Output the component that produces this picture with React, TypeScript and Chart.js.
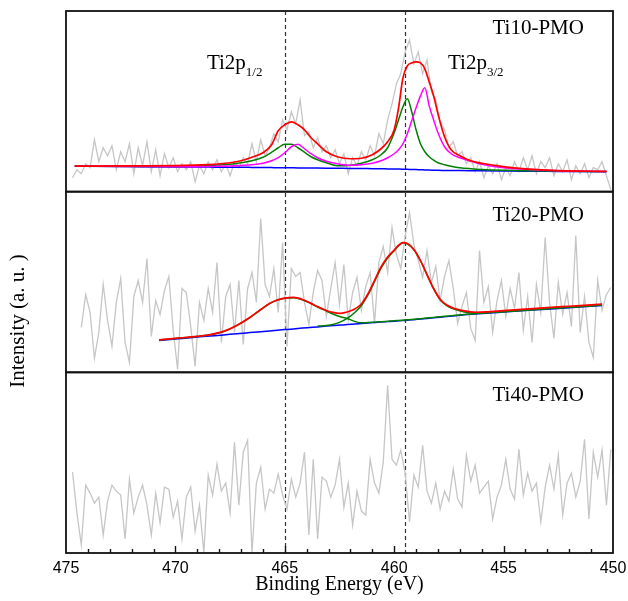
import React, { useEffect, useRef } from 'react';
import { Chart, registerables } from 'chart.js';

Chart.register(...registerables);

// Measured spectra: energy grid 474.7 -> 450.1 eV (0.2 eV step)
const spectrumStart = 474.7;
const spectrumStep = 0.2;
const spectrumCount = 124;

// Intensities in panel units (0 = panel bottom, 181 = panel top)
const ti10Spectrum = [
  14, 22, 18, 28, 24, 52, 30, 44, 36, 46,
  22, 40, 30, 48, 18, 44, 26, 50, 20, 42,
  16, 38, 24, 34, 20, 28, 22, 30, 10, 26,
  18, 30, 22, 32, 20, 28, 16, 30, 24, 34,
  28, 48, 30, 52, 36, 44, 58, 50, 72, 62,
  80, 68, 92, 56, 60, 44, 54, 40, 46, 34,
  42, 28, 38, 18, 34, 26, 40, 32, 46, 36,
  58, 48, 72, 88, 108, 118, 140, 152, 128, 140,
  118, 132, 100, 92, 70, 62, 44, 50, 36, 40,
  28, 34, 20, 30, 14, 26, 18, 28, 12, 24,
  16, 30, 20, 34, 22, 36, 18, 30, 24, 34,
  16, 28, 20, 32, 12, 26, 18, 28, 14, 24,
  22, 30, 16, 2,
];

const ti20Spectrum = [
  null, null, 45, 78, 60, 14, 40, 88, 52, 26,
  70, 94, 30, 10, 76, 92, 70, 114, 36, 72,
  58, 82, 96, 42, 3, 84, 80, 46, 6, 70,
  52, 84, 60, 110, 30, 76, 88, 40, 92, 28,
  84, 100, 70, 154, 88, 76, 104, 60, 130, 26,
  104, 96, 100, 70, 48, 80, 102, 92, 56, 84,
  110, 68, 108, 52, 80, 95, 62, 86, 100, 49,
  110, 126, 100, 145, 118, 104, 136, 160, 128, 112,
  95, 122, 90, 106, 72, 96, 112, 84, 49, 66,
  80, 44, 32, 122, 70, 86, 40, 72, 92, 56,
  84, 64, 100, 42, 76, 30, 88, 60, 135, 70,
  34, 90, 58, 80, 46, 137, 40, 76, 30, 15,
  92, 62, 78, 85,
];

const ti40Spectrum = [
  81, 40, 8, 68, 60, 50, 56, 18, 52, 68,
  62, 58, 14, 74, 40, 56, 68, 48, 18, 60,
  30, 66, 64, 36, 52, 14, 56, 66, 22, 48,
  0, 78, 58, 89, 62, 70, 40, 111, 48, 101,
  113, 0, 70, 86, 44, 64, 60, 79, 58, 44,
  74, 56, 70, 101, 18, 94, 14, 76, 72, 56,
  68, 94, 46, 70, 28, 62, 42, 38, 94, 70,
  60, 91, 168, 94, 88, 103, 80, 31, 78, 66,
  108, 62, 50, 70, 44, 62, 52, 84, 54, 46,
  98, 72, 88, 60, 66, 72, 34, 56, 68, 94,
  64, 54, 104, 58, 80, 62, 70, 31, 66, 88,
  64, 98, 38, 70, 80, 56, 72, 114, 34, 101,
  76, 103, 48, 104,
];

// Ti10-PMO peak fit
const ti10FitEnergy = [
  474.6, 472, 470, 468.5, 467.5, 467, 466.5, 466, 465.6, 465.3,
  465, 464.7, 464.4, 464.1, 463.8, 463.5, 463.1, 462.6, 462, 461.5,
  461, 460.6, 460.3, 460, 459.8, 459.6, 459.4, 459.2, 459, 458.8,
  458.6, 458.4, 458.2, 458, 457.7, 457.4, 457, 456.5, 456, 455,
  454, 452.5, 450.3,
];
const ti10Background = [
  25.5, 25.1, 24.8, 24.6, 24.4, 24.4, 24.3, 24.2, 24.1, 24.0,
  24.0, 23.9, 23.8, 23.8, 23.7, 23.6, 23.5, 23.4, 23.3, 23.2,
  23.0, 22.9, 22.8, 22.7, 22.6, 22.5, 22.4, 22.2, 22.1, 21.9,
  21.8, 21.6, 21.5, 21.4, 21.3, 21.2, 21.1, 21.0, 20.9, 20.7,
  20.5, 20.3, 20.0,
];
const ti10ComponentA = [
  25.6, 25.3, 25.2, 26.3, 27.5, 29, 31, 34.5, 39.5, 44,
  47.5, 47.5, 44, 39.5, 35, 32, 29, 26, 26.5, 28.5,
  32, 37, 44, 59, 72, 85, 93, 80, 62, 48,
  40, 35, 31.5, 29, 27, 25.5, 24, 23, 22.3, 21.5,
  21, 20.6, 20.2,
];
const ti10ComponentB = [
  25.5, 25.2, 25, 25.2, 25.8, 26.3, 27, 28.5, 31, 34,
  39, 45, 47.5, 43, 38, 34, 30.5, 28, 26.5, 27,
  28.5, 31, 34, 38, 42, 48, 58, 71, 84, 96,
  104, 86, 72, 59, 45, 38, 34, 30.5, 27.5, 24,
  22.5, 21, 20.3,
];
const ti10Envelope = [
  25.5, 25.8, 26, 27, 29, 31, 34.5, 39, 47, 61,
  67, 70, 67, 62, 54, 48, 40, 35, 33, 33.5,
  37, 43, 50, 62, 84, 114, 126, 129, 130, 129,
  123, 110, 96, 78, 55, 42, 36, 31, 28.5, 25,
  22.8, 21, 20.3,
];

// Ti20-PMO peak fit
const ti20FitEnergy = [
  470.75, 470, 469, 468.4, 467.8, 467.2, 466.6, 466.1, 465.7, 465.35,
  465, 464.6, 464.2, 463.85, 463.5, 463.1, 462.8, 462.5, 462.15, 461.8,
  461.5, 461.2, 460.9, 460.6, 460.3, 460, 459.8, 459.6, 459.4, 459.1,
  458.8, 458.5, 458.2, 457.9, 457.6, 457.2, 456.8, 456.3, 455.8, 455,
  454, 453, 452, 451, 450.5,
];
const ti20Background = [
  32, 33.4, 35.3, 36.4, 37.5, 38.7, 39.8, 40.7, 41.5, 42.2,
  42.8, 43.5, 44.3, 44.9, 45.5, 46.3, 46.8, 47.3, 47.8, 48.4,
  48.9, 49.4, 49.9, 50.3, 50.8, 51.3, 51.6, 51.9, 52.2, 52.8,
  53.4, 54.0, 54.6, 55.3, 55.9, 56.7, 57.6, 58.4, 59.2, 60.4,
  61.9, 63.3, 64.8, 66.2, 67,
];
const ti20ComponentA = [
  32.5, 34, 36, 37.6, 40.8, 46.8, 54.8, 62.8, 68.8, 72.2,
  74.2, 74.7, 72.8, 69.3, 65.5, 61.5, 58.5, 56, 54, 51,
  49.6, 49.9, 50.3, 50.7, 51.2, 51.7, 52.0, 52.3, 52.6, 53.2,
  53.8, 54.4, 55.0, 55.7, 56.3, 57.1, 58.0, 58.8, 59.6, 60.8,
  62.3, 63.7, 65.2, 66.6, 67.4,
];
const ti20ComponentB = [
  null, null, null, null, null, null, null, null, null, null,
  null, null, null, null, 46.3, 47, 48, 50, 54, 60,
  67, 77.5, 91, 104.5, 114.5, 121.8, 126.8, 129.8, 128.8, 122.8,
  111.8, 97.8, 83.8, 72.8, 66.8, 62.8, 60.5, 59.2, 59.8, 61,
  62.5, 63.9, 65.4, 66.8, 67.6,
];
const ti20Envelope = [
  32.5, 34, 36, 37.8, 41, 47, 55, 63, 69, 72.4,
  74.4, 75, 73, 69.6, 65.8, 62, 60, 59, 60.5, 63.5,
  68.5, 78.5, 92, 105.5, 115.5, 122.5, 127.3, 130, 129, 123,
  112, 98, 84, 73.3, 67.5, 63.6, 61.5, 60.2, 60.5, 61.8,
  63.3, 64.8, 66.2, 67.6, 68.4,
];

const xTickValues = [475, 470, 465, 460, 455, 450];
const guideEnergies = [465, 459.5];
const panelNames = ['Ti10-PMO', 'Ti20-PMO', 'Ti40-PMO'];
const panelAxes = ['y10', 'y20', 'y40'];
const peakLabels = [
  { main: 'Ti2p', sub: '1/2', energy: 468.56 },
  { main: 'Ti2p', sub: '3/2', energy: 457.54 },
];
const yTitle = 'Intensity (a. u. )';
const xTitle = 'Binding Energy (eV)';

const SERIF = '"Liberation Serif", "Times New Roman", serif';
const SANS = '"Liberation Sans", Arial, sans-serif';

const spectrumEnergy = Array.from({ length: spectrumCount }, (_, i) =>
  Math.round((spectrumStart - spectrumStep * i) * 10) / 10
);

const toPoints = (xs: number[], ys: (number | null)[]) =>
  xs.map((x, i) => ({ x, y: ys[i] }));

const line = (
  data: any[],
  color: string,
  width: number,
  axis: string,
  order: number,
  smooth: boolean
) => ({
  data,
  borderColor: color,
  borderWidth: width,
  pointRadius: 0,
  fill: false,
  yAxisID: axis,
  order,
  tension: 0,
  cubicInterpolationMode: smooth ? 'monotone' : 'default',
  spanGaps: false,
});

const GRAY = '#c6c6c6';
const RED = '#ff0000';
const GREEN = '#008000';
const MAGENTA = '#ff00ff';
const BLUE = '#0000ff';

const panelScale = {
  type: 'linear',
  stack: 'panels',
  stackWeight: 1,
  min: 0,
  max: 181,
  grid: { display: false, drawTicks: false },
  border: { display: false },
  ticks: { display: false },
};

const decorPlugin = {
  id: 'decor',
  beforeDatasetsDraw(chart: any) {
    const { ctx, chartArea, scales } = chart;
    ctx.save();
    ctx.setLineDash([4, 3]);
    ctx.strokeStyle = '#333';
    ctx.lineWidth = 1.2;
    for (const v of guideEnergies) {
      const px = Math.round(scales.x.getPixelForValue(v)) + 0.5;
      ctx.beginPath();
      ctx.moveTo(px, chartArea.top);
      ctx.lineTo(px, chartArea.bottom);
      ctx.stroke();
    }
    ctx.restore();
  },
  afterDraw(chart: any) {
    const { ctx, chartArea, scales } = chart;
    const x = scales.x;
    ctx.save();
    // panel frames
    ctx.strokeStyle = '#111';
    ctx.lineWidth = 1.8;
    for (const id of panelAxes) {
      const s = scales[id];
      ctx.strokeRect(chartArea.left, s.top, chartArea.right - chartArea.left, s.bottom - s.top);
    }
    // inward tick marks on the energy axis
    ctx.lineWidth = 1.4;
    for (let v = 451; v <= 474; v++) {
      const px = Math.round(x.getPixelForValue(v)) + 0.5;
      const len = v % 5 === 0 ? 7 : 4;
      ctx.beginPath();
      ctx.moveTo(px, chartArea.bottom);
      ctx.lineTo(px, chartArea.bottom - len);
      ctx.stroke();
    }
    // panel names
    ctx.fillStyle = '#000';
    ctx.font = `21px ${SERIF}`;
    ctx.textAlign = 'right';
    ctx.textBaseline = 'alphabetic';
    const nameY = [158, 152, 152];
    panelNames.forEach((name, i) => {
      const s = scales[panelAxes[i]];
      ctx.fillText(name, x.getPixelForValue(451.33), s.getPixelForValue(nameY[i]));
    });
    // peak labels
    ctx.textAlign = 'left';
    for (const p of peakLabels) {
      const px = x.getPixelForValue(p.energy);
      const py = scales.y10.getPixelForValue(123);
      ctx.font = `21px ${SERIF}`;
      ctx.fillText(p.main, px, py);
      const w = ctx.measureText(p.main).width;
      ctx.font = `13px ${SERIF}`;
      ctx.fillText(p.sub, px + w, py + 7);
    }
    // y title
    ctx.font = `21px ${SERIF}`;
    ctx.textAlign = 'center';
    ctx.textBaseline = 'middle';
    ctx.translate(18, 321);
    ctx.rotate(-Math.PI / 2);
    ctx.fillText(yTitle, 0, 0);
    ctx.restore();
  },
};

export default function App() {
  const ref = useRef<HTMLCanvasElement | null>(null);

  useEffect(() => {
    if (!ref.current) return;
    const chart = new Chart(ref.current, {
      type: 'line',
      data: {
        datasets: [
          line(toPoints(ti10FitEnergy, ti10Envelope), RED, 1.7, 'y10', 1, true),
          line(toPoints(ti10FitEnergy, ti10ComponentB), MAGENTA, 1.5, 'y10', 2, true),
          line(toPoints(ti10FitEnergy, ti10ComponentA), GREEN, 1.5, 'y10', 3, true),
          line(toPoints(ti10FitEnergy, ti10Background), BLUE, 1.5, 'y10', 4, true),
          line(toPoints(spectrumEnergy, ti10Spectrum), GRAY, 1.3, 'y10', 5, false),
          line(toPoints(ti20FitEnergy, ti20Envelope), RED, 1.7, 'y20', 1, true),
          line(toPoints(ti20FitEnergy, ti20ComponentA), GREEN, 1.5, 'y20', 3, true),
          line(toPoints(ti20FitEnergy, ti20ComponentB), GREEN, 1.5, 'y20', 3, true),
          line(toPoints(ti20FitEnergy, ti20Background), BLUE, 1.5, 'y20', 4, true),
          line(toPoints(spectrumEnergy, ti20Spectrum), GRAY, 1.3, 'y20', 5, false),
          line(toPoints(spectrumEnergy, ti40Spectrum), GRAY, 1.3, 'y40', 5, false),
        ] as any,
      },
      options: {
        animation: false,
        responsive: false,
        devicePixelRatio: 1,
        layout: { padding: { left: 66, right: 15, top: 11, bottom: 8 } },
        plugins: { legend: { display: false }, tooltip: { enabled: false } },
        scales: {
          x: {
            type: 'linear',
            min: 450,
            max: 475,
            reverse: true,
            grid: { display: false, drawTicks: false },
            border: { display: false },
            afterBuildTicks: (scale: any) => {
              scale.ticks = xTickValues.map((v) => ({ value: v }));
            },
            ticks: {
              padding: 0,
              color: '#000',
              autoSkip: false,
              maxRotation: 0,
              font: { family: SANS, size: 16, lineHeight: 2 },
              callback: (v: any) => String(v),
            },
            title: {
              display: true,
              text: xTitle,
              color: '#000',
              font: { family: SERIF, size: 20, lineHeight: 0.8 },
              padding: { top: -8, bottom: 0 },
            },
          },
          y40: { ...panelScale },
          y20: { ...panelScale },
          y10: { ...panelScale },
        } as any,
      },
      plugins: [decorPlugin],
    });
    return () => chart.destroy();
  }, []);

  return (
    <div style={{ position: 'fixed', left: 0, top: 0, width: 628, height: 601, background: '#fff' }}>
      <canvas ref={ref} width={628} height={601} style={{ display: 'block' }} />
    </div>
  );
}
